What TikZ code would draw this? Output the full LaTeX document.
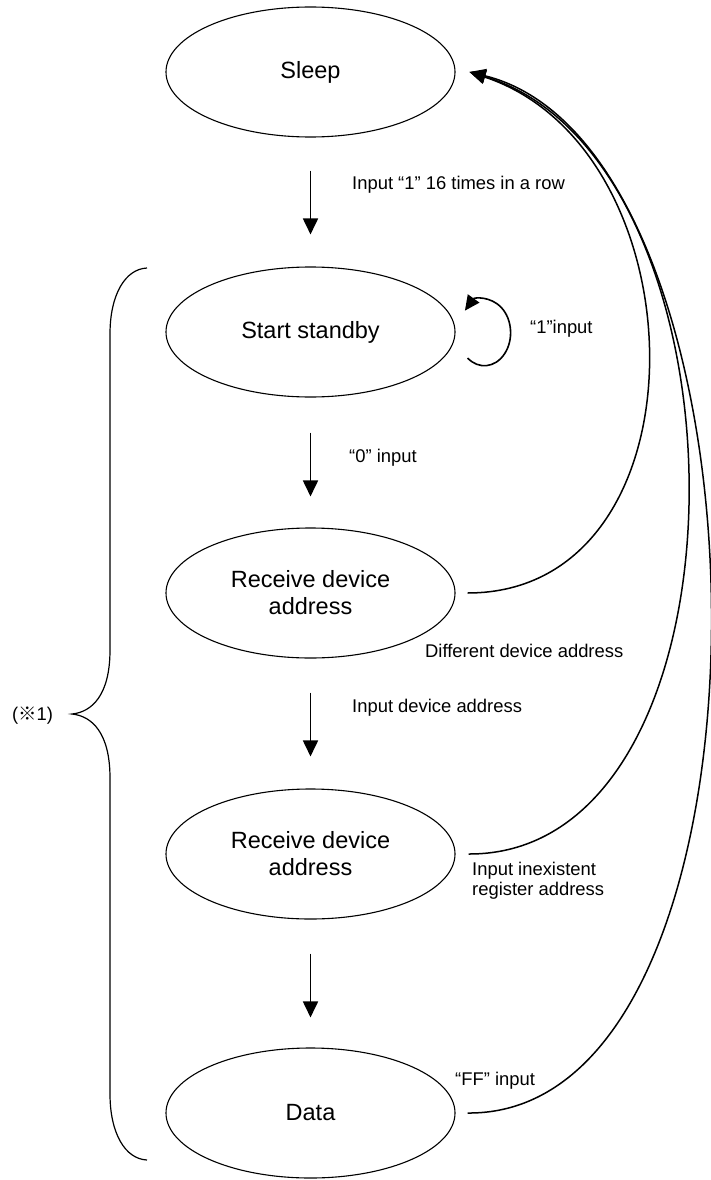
\documentclass[tikz,border=0pt]{standalone}
\usepackage{fontspec}
\setmainfont{Liberation Sans}
\newfontfamily\cjkfont{Noto Sans CJK JP}
\usetikzlibrary{shapes.geometric,arrows.meta,calc}
\begin{document}
\begin{tikzpicture}[x=1pt,y=-1pt,
  state/.style={ellipse,draw,line width=1.1pt,minimum width=289pt,minimum height=130pt,inner sep=0pt,align=center,font=\fontsize{23.5}{27}\selectfont},
  lbl/.style={anchor=base west,inner sep=0pt,align=left,font=\fontsize{18.4}{20}\selectfont},
  downarrow/.style={line width=1.8pt,-{Triangle[length=16pt,width=15pt]}},
  backarrow/.style={line width=1.5pt,-{Triangle[length=16pt,width=14pt]}},
  bracestyle/.style={line width=1.2pt}]
\useasboundingbox (0,0) rectangle (711,1180);

% states
\node[state] (sleep) at (310.5,72) {Sleep};
\node[state] (ss) at (310.5,332) {Start standby};
\node[state] (e3) at (310.5,593) {Receive device\\address};
\node[state] (e4) at (310.5,854) {Receive device\\address};
\node[state] (data) at (310.5,1113) {Data};

% straight arrows
\draw[downarrow] ([yshift=-33pt]sleep.south) -- ([yshift=32pt]ss.north);
\draw[downarrow] ([yshift=-35pt]ss.south) -- ([yshift=31pt]e3.north);
\draw[downarrow] ([yshift=-34pt]e3.south) -- ([yshift=32pt]e4.north);
\draw[downarrow] ([yshift=-34pt]e4.south) -- ([yshift=30pt]data.north);

% self loop
\coordinate (loopstart) at ([shift={(12,26)}]ss.east);
\draw[line width=1.6pt,-{Triangle[length=15pt,width=14pt]}] (loopstart) arc[start angle=-130,end angle=138,x radius=26.2pt,y radius=33pt];

% return curves
\coordinate (sleepin) at ([xshift=14pt]sleep.east);
\draw[backarrow] ([xshift=12pt]e3.east) .. controls (710,593) and (705,150) .. (sleepin);
\draw[backarrow] ([xshift=13pt]e4.east) .. controls (760,855) and (760,160) .. (sleepin);
\draw[backarrow] ([xshift=12pt]data.east) .. controls (795,1116) and (785,150) .. (sleepin);

% labels
\node[lbl] (l1) at (352,189) {Input “1” 16 times in a row};
\node[lbl] (l2) at (530,333) {“1”input};
\node[lbl] (l3) at (349,462) {“0” input};
\node[lbl] (l4) at (425,657) {Different device address};
\node[lbl] (l5) at (352,712) {Input device address};
\node[lbl] (l6) at (472,895) {Input inexistent\\register address};
\node[lbl] (l7) at (455,1085) {“FF” input};
\node[lbl] (l8) at (12,720) {({\cjkfont ※}1)};

% brace
\draw[bracestyle] (147,268) .. controls (125,269) and (110,295) .. (110,334)
  -- (110,650) .. controls (110,695) and (92,712) .. (72,714)
  .. controls (92,716) and (110,733) .. (110,778)
  -- (110,1094) .. controls (110,1133) and (125,1159) .. (147,1160);
\end{tikzpicture}
\end{document}
